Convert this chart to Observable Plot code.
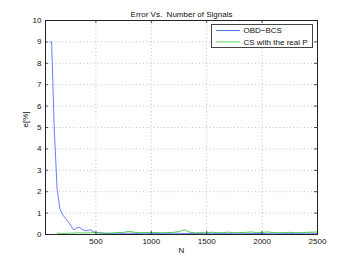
<!DOCTYPE html>
<html>
<head>
<meta charset="utf-8">
<script src="https://cdn.jsdelivr.net/npm/d3@7"></script>
<script src="https://cdn.jsdelivr.net/npm/@observablehq/plot@0.6"></script>
<style>
  html, body { margin: 0; padding: 0; background: #fff; }
  svg { display: block; }
</style>
</head>
<body>
<div id="chart"></div>
<script>
// ---- data ----
const titleText = "Error Vs.  Number of Signals";
const xLabel = "N";
const yLabel = "e[%]";
const seriesNames = ["OBD\u2212BCS", "CS with the real P"];
const seriesColors = ["#2b45ff", "#2ec42e"];

const xTicks = [500, 1000, 1500, 2000, 2500];
const yTicks = [0, 1, 2, 3, 4, 5, 6, 7, 8, 9, 10];

const blueN = [85, 100, 125, 150, 175, 200, 225, 250, 275, 300, 325, 350, 375, 400, 425, 450, 475, 500,
  550, 600, 650, 700, 750, 800, 850, 900, 950, 1000, 1100, 1200, 1300, 1400, 1500, 1600, 1700, 1800,
  1900, 2000, 2100, 2200, 2300, 2400, 2500];
const blueE = [9, 9, 4.8, 2.1, 1.2, 0.92, 0.75, 0.6, 0.4, 0.22, 0.3, 0.34, 0.24, 0.18, 0.19, 0.22, 0.14, 0.08,
  0.06, 0.05, 0.05, 0.06, 0.05, 0.06, 0.05, 0.05, 0.06, 0.05, 0.05, 0.06, 0.05, 0.05, 0.06, 0.05, 0.05,
  0.06, 0.05, 0.05, 0.06, 0.05, 0.05, 0.06, 0.05];

const greenN = [150, 200, 250, 300, 350, 400, 450, 500, 550, 600, 650, 700, 750, 800, 850, 900, 950, 1000,
  1050, 1100, 1150, 1200, 1250, 1300, 1350, 1400, 1450, 1500, 1550, 1600, 1650, 1700, 1750, 1800, 1850,
  1900, 1950, 2000, 2050, 2100, 2150, 2200, 2250, 2300, 2350, 2400, 2450, 2500];
const greenE = [0.06, 0.05, 0.06, 0.07, 0.08, 0.07, 0.08, 0.09, 0.08, 0.06, 0.07, 0.09, 0.1, 0.15, 0.1, 0.08, 0.09, 0.1,
  0.09, 0.08, 0.09, 0.1, 0.14, 0.22, 0.1, 0.08, 0.09, 0.07, 0.11, 0.08, 0.09, 0.11, 0.08, 0.09, 0.1,
  0.12, 0.09, 0.1, 0.12, 0.09, 0.08, 0.09, 0.1, 0.09, 0.08, 0.1, 0.11, 0.12];

const blue = blueN.map((n, i) => ({N: n, e: blueE[i]}));
const green = greenN.map((n, i) => ({N: n, e: greenE[i]}));

// ---- chart ----
const W = 350, H = 264;
const mL = 45, mR = 33, mT = 20, mB = 30;
const fw = W - mL - mR, fh = H - mT - mB;
const font = "'Liberation Sans', Arial, Helvetica, sans-serif";
const gridStyle = {stroke: "#b4b4b4", strokeOpacity: 1, strokeWidth: 0.8, strokeDasharray: "1,2.5"};

const chart = Plot.plot({
  width: W, height: H,
  marginLeft: mL, marginRight: mR, marginTop: mT, marginBottom: mB,
  style: {fontFamily: font, fontSize: "8px", color: "#111", background: "#fff"},
  x: {domain: [45, 2500], axis: null, label: null},
  y: {domain: [0, 10], axis: null, label: null},
  marks: [
    Plot.gridX(xTicks.slice(0, -1), gridStyle),
    Plot.gridY(yTicks.slice(1, -1), gridStyle),
    Plot.line(blue, {x: "N", y: "e", stroke: seriesColors[0], strokeWidth: 0.7}),
    Plot.line(green, {x: "N", y: "e", stroke: seriesColors[1], strokeWidth: 0.8}),
    Plot.frame({stroke: "#222", strokeWidth: 1}),
    // inward ticks
    Plot.tickX(xTicks, {x: d => d, insetTop: fh - 3, stroke: "#222", strokeWidth: 0.8}),
    Plot.tickX(xTicks, {x: d => d, insetBottom: fh - 3, stroke: "#222", strokeWidth: 0.8}),
    Plot.tickY(yTicks, {y: d => d, insetRight: fw - 3, stroke: "#222", strokeWidth: 0.8}),
    Plot.tickY(yTicks, {y: d => d, insetLeft: fw - 3, stroke: "#222", strokeWidth: 0.8}),
    Plot.axisX(xTicks, {tickSize: 0, tickPadding: 4, fontSize: 8, fill: "#111", label: null, tickFormat: d3.format("d")}),
    Plot.axisY(yTicks, {tickSize: 0, tickPadding: 4, fontSize: 8, fill: "#111", label: null, tickFormat: d3.format("d")}),
    Plot.text([titleText], {frameAnchor: "top", dy: -9, fontSize: 8, fill: "#111"}),
    Plot.text([xLabel], {frameAnchor: "bottom", dy: 18, fontSize: 8, fill: "#111"}),
    Plot.text([yLabel], {frameAnchor: "left", dx: -20, rotate: -90, fontSize: 8, fill: "#111"})
  ]
});

// legend box (top-right inside the frame)
const svg = d3.select(chart);
const lg = svg.append("g").attr("transform", `translate(${mL + fw - 106},${mT + 4})`);
lg.append("rect").attr("x", 0.5).attr("y", 0.5).attr("width", 101).attr("height", 23)
  .attr("fill", "#fff").attr("stroke", "#444").attr("stroke-width", 1);
seriesNames.forEach((name, i) => {
  const yy = 6.5 + i * 11.4;
  lg.append("line").attr("x1", 5).attr("x2", 29).attr("y1", yy).attr("y2", yy)
    .attr("stroke", seriesColors[i]).attr("stroke-width", 0.8);
  lg.append("text").attr("x", 32.5).attr("y", yy).attr("dy", "0.33em")
    .attr("text-anchor", "start")
    .attr("font-size", 8).attr("font-family", font).attr("fill", "#111").text(name);
});

document.getElementById("chart").appendChild(chart);
</script>
</body>
</html>
